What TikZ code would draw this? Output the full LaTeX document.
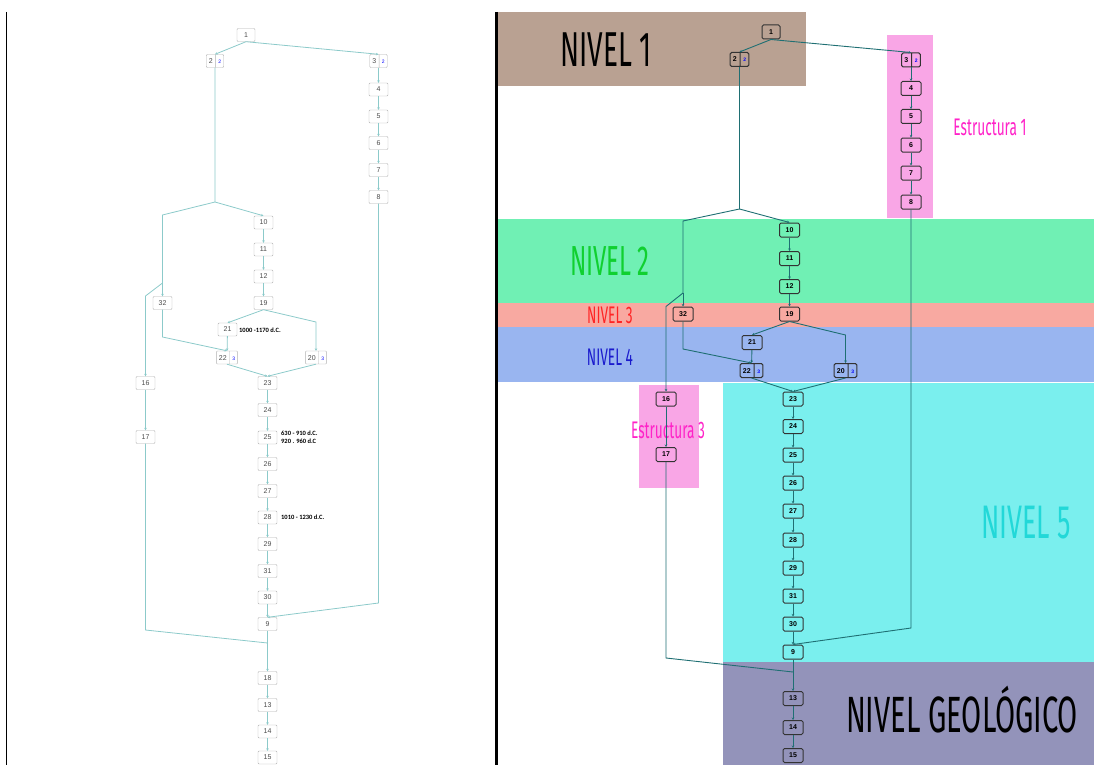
\documentclass[tikz,border=0pt]{standalone}
\usepackage{fontspec}
\setmainfont{Liberation Sans}
\newfontfamily\nivelfont[FakeStretch=0.57]{Fira Sans}
\newfontfamily\datefont{Carlito}
\usetikzlibrary{arrows.meta,shapes.multipart}
\definecolor{oldline}{HTML}{8CCACA}
\definecolor{newline}{HTML}{1F6F73}
\definecolor{bandone}{HTML}{B9A192}
\definecolor{bandtwo}{HTML}{70F0B4}
\definecolor{bandthree}{HTML}{F8A9A1}
\definecolor{bandfour}{HTML}{99B5F0}
\definecolor{bandfive}{HTML}{7AEFEE}
\definecolor{bandgeo}{HTML}{9393BA}
\definecolor{estrpink}{HTML}{F9A6E6}
\definecolor{estrtext}{HTML}{FF22C8}
\definecolor{nivgreen}{HTML}{10D030}
\definecolor{nivred}{HTML}{FF2424}
\definecolor{nivblue}{HTML}{1A1ACD}
\definecolor{nivcyan}{HTML}{22D8D8}
\newcommand\oldrule{\rule[-4pt]{0pt}{13pt}}
\newcommand\newrule{\rule[-4.5pt]{0pt}{14pt}}
\newcommand\extra[1]{\textcolor{blue}{\fontsize{5}{5}\selectfont #1}}

\begin{document}
\begin{tikzpicture}[x=1pt,y=-1pt,
  oldbox/.style={draw=gray!60,fill=white,rounded corners=1pt,minimum width=19pt,minimum height=13pt,inner sep=0pt,font=\fontsize{7}{7}\selectfont,text=black!70},
  oldsplit/.style={oldbox,minimum width=0pt,inner xsep=2.6pt,rectangle split,rectangle split horizontal,rectangle split parts=2},
  newbox/.style={draw=black!80,line width=1pt,rounded corners=1.5pt,minimum width=20pt,minimum height=14pt,inner sep=0pt,font=\fontsize{7}{7}\selectfont\bfseries},
  newsplit/.style={newbox,minimum width=0pt,inner xsep=2.8pt,rectangle split,rectangle split horizontal,rectangle split parts=2},
  old/.style={draw=oldline,line width=0.8pt},
  oldarr/.style={old,-{Stealth[length=2.5pt,width=2.5pt]}},
  new/.style={draw=newline,line width=0.9pt},
  newarr/.style={new,-{Stealth[length=2.5pt,width=2.5pt]}},
  datenote/.style={anchor=west,inner sep=0pt,font=\datefont\bfseries\fontsize{6.5}{8}\selectfont,align=left},
  nivel/.style={inner sep=0pt,font=\nivelfont}
]
\useasboundingbox (0,0) rectangle (1094,765);
\draw[line width=1.3pt] (6.5,12) -- (6.5,765);
\draw[line width=3pt] (496,12) -- (496,765);

% bands of the right panel
\fill[bandone] (498,12) rectangle (806,86);
\fill[bandtwo] (498,219) rectangle (1094,303);
\fill[bandthree] (498,303) rectangle (1094,327);
\fill[bandfour] (498,327) rectangle (1094,382);
\fill[bandfive] (723,383) rectangle (1094,662);
\fill[bandgeo] (723,662) rectangle (1094,765);
\fill[estrpink] (887,35) rectangle (933,218);
\fill[estrpink] (639,385) rectangle (699,488);

\node[nivel,font=\nivelfont\fontsize{49}{49}\selectfont] (niv1) at (606,50) {NIVEL 1};
\node[nivel,text=nivgreen,font=\nivelfont\fontsize{42}{42}\selectfont] (niv2) at (610,261) {NIVEL 2};
\node[nivel,text=nivred,font=\nivelfont\fontsize{24}{24}\selectfont] (niv3) at (610,315) {NIVEL 3};
\node[nivel,text=nivblue,font=\nivelfont\fontsize{24}{24}\selectfont] (niv4) at (610,357) {NIVEL 4};
\node[nivel,text=nivcyan,font=\nivelfont\fontsize{47}{47}\selectfont] (niv5) at (1026,523) {NIVEL 5};
\node[nivel,font=\nivelfont\fontsize{51}{51}\selectfont] (nivgeo) at (962,710) {NIVEL GEOLÓGICO};
\node[nivel,text=estrtext,font=\nivelfont\fontsize{24}{24}\selectfont] (estr1) at (990,127) {Estructura 1};
\node[nivel,text=estrtext,font=\nivelfont\fontsize{24}{24}\selectfont] (estr3) at (668,430) {Estructura 3};

% left panel
\node[oldbox,minimum width=18pt] (L1) at (246,35) {1};
\node[oldsplit] (L2) at (215,61) {\oldrule 2\nodepart{two}\oldrule\extra{2}};
\node[oldsplit] (L3) at (378.5,61) {\oldrule 3\nodepart{two}\oldrule\extra{2}};
\foreach \n/\y in {4/89.5,5/116.5,6/143,7/170,8/197}
  \node[oldbox] (L\n) at (378.5,\y) {\n};
\foreach \n/\y in {10/222.5,11/249.5,12/276.5,19/303}
  \node[oldbox] (L\n) at (263.5,\y) {\n};
\node[oldbox] (L32) at (162.5,303) {32};
\node[oldbox] (L21) at (227.5,329.5) {21};
\node[oldsplit] (L22) at (227,357.5) {\oldrule 22\nodepart{two}\oldrule\extra{3}};
\node[oldsplit] (L20) at (316,357.5) {\oldrule 20\nodepart{two}\oldrule\extra{3}};
\foreach \n/\y in {23/383,24/410,25/437.5,26/464,27/491,28/517.5,29/544,31/571,30/597.5,9/624,18/678,13/705,14/731.5,15/757.5}
  \node[oldbox] (L\n) at (267.5,\y) {\n};
\node[oldbox] (L16) at (145.5,383) {16};
\node[oldbox] (L17) at (145.5,437) {17};
\node[datenote] (d21) at (239,330) {1000 -1170 d.C.};
\node[datenote] (d25) at (281,437.5) {630 - 910 d.C.\\920 . 960 d.C};
\node[datenote] (d28) at (281,517.5) {1010 - 1230 d.C.};

\coordinate (Ls) at (215,202);
\coordinate (La) at (162.5,215);
\coordinate (Lb) at (162.5,283);
\coordinate (Lc) at (145.5,296);
\coordinate (Ld) at (316,322);
\coordinate (Le) at (162.5,337);
\coordinate (Lf) at (145.5,630);
\coordinate (Lg) at (267.5,643);
\coordinate (Lh) at (378.5,603);

\draw[oldarr] (L1.south) -- (L2.north);
\draw[oldarr] (L1.south) -- (L3.north);
\foreach \a/\b in {3/4,4/5,5/6,6/7,7/8,10/11,11/12,12/19,21/22,23/24,24/25,25/26,26/27,27/28,28/29,29/31,31/30,30/9,9/18,18/13,13/14,14/15,16/17}
  \draw[oldarr] (L\a) -- (L\b);
\draw[old] (L2.south) -- (Ls) -- (La) -- (Lb);
\draw[oldarr] (Ls) -- (L10.north);
\draw[oldarr] (Lb) -- (L32.north);
\draw[oldarr] (Lb) -- (Lc) -- (L16.north);
\draw[oldarr] (L19.south) -- (L21.north);
\draw[oldarr] (L19.south) -- (Ld) -- (L20.north);
\draw[oldarr] (L32.south) -- (Le) -- (L22.north);
\draw[oldarr] (L22.south) -- (L23.north);
\draw[oldarr] (L20.south) -- (L23.north);
\draw[oldarr] (L8.south) -- (Lh) -- (L9.north);
\draw[old] (L17.south) -- (Lf) -- (Lg);

% right panel
\node[newbox,minimum width=18pt] (R1) at (771,32) {1};
\node[newsplit] (R2) at (739.5,59.5) {\newrule 2\nodepart{two}\newrule\extra{2}};
\node[newsplit] (R3) at (911,60) {\newrule 3\nodepart{two}\newrule\extra{2}};
\foreach \n/\y in {4/88.5,5/116.5,6/145,7/173,8/202}
  \node[newbox] (R\n) at (911,\y) {\n};
\foreach \n/\y in {10/230,11/258.5,12/286.5,19/314}
  \node[newbox] (R\n) at (789.5,\y) {\n};
\node[newbox] (R32) at (683,314) {32};
\node[newbox] (R21) at (752,342.5) {21};
\node[newsplit] (R22) at (751.5,370.5) {\newrule 22\nodepart{two}\newrule\extra{3}};
\node[newsplit] (R20) at (845.5,370.5) {\newrule 20\nodepart{two}\newrule\extra{3}};
\foreach \n/\y in {23/399,24/426.5,25/455,26/483,27/511,28/540,29/568,31/596,30/624,9/652,13/698.5,14/727.5,15/755.5}
  \node[newbox] (R\n) at (793,\y) {\n};
\node[newbox] (R16) at (666,399) {16};
\node[newbox] (R17) at (666,454.5) {17};

\coordinate (Rs) at (739.5,209);
\coordinate (Ra) at (683,221);
\coordinate (Rb) at (683,293);
\coordinate (Rc) at (666,306.5);
\coordinate (Rd) at (845.5,335);
\coordinate (Re) at (683,349);
\coordinate (Rf) at (666,658);
\coordinate (Rg) at (793,672);
\coordinate (Rh) at (911,628);

\draw[newarr] (R1.south) -- (R2.north);
\draw[newarr] (R1.south) -- (R3.north);
\foreach \a/\b in {3/4,4/5,5/6,6/7,7/8,10/11,11/12,12/19,21/22,23/24,24/25,25/26,26/27,27/28,28/29,29/31,31/30,30/9,9/13,13/14,14/15,16/17}
  \draw[newarr] (R\a) -- (R\b);
\draw[new] (R2.south) -- (Rs) -- (Ra) -- (Rb);
\draw[newarr] (Rs) -- (R10.north);
\draw[newarr] (Rb) -- (R32.north);
\draw[newarr] (Rb) -- (Rc) -- (R16.north);
\draw[newarr] (R19.south) -- (R21.north);
\draw[newarr] (R19.south) -- (Rd) -- (R20.north);
\draw[newarr] (R32.south) -- (Re) -- (R22.north);
\draw[newarr] (R22.south) -- (R23.north);
\draw[newarr] (R20.south) -- (R23.north);
\draw[newarr] (R8.south) -- (Rh) -- (R9.north);
\draw[new] (R17.south) -- (Rf) -- (Rg);
\end{tikzpicture}
\end{document}
